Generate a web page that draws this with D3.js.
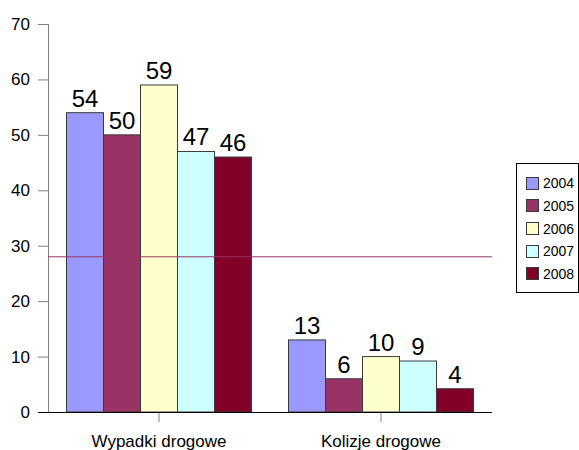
<!DOCTYPE html>
<html><head><meta charset="utf-8">
<script src="https://cdn.jsdelivr.net/npm/d3@7"></script>
<style>body{margin:0;background:#fff}svg{display:block;font-family:Arial,"Liberation Sans",sans-serif}</style>
</head><body><svg id="c" width="579" height="450"></svg>
<script>
const categories = ["Wypadki drogowe", "Kolizje drogowe"];
const years = ["2004", "2005", "2006", "2007", "2008"];
const values2004 = [54, 13];
const values2005 = [50, 6];
const values2006 = [59, 10];
const values2007 = [47, 9.2];
const values2008 = [46, 4.2];
const yTicks = [0, 10, 20, 30, 40, 50, 60, 70];
const refLine = 28;
const colors = ["#9999FF", "#993366", "#FFFFCC", "#CCFFFF", "#800028"];

(function () {
const series = [values2004, values2005, values2006, values2007, values2008];
const svg = d3.select("#c");
const mLeft = 48, mRight = 492, mTop = 24, mBottom = 412;
const FONT = "Arial, 'Liberation Sans', sans-serif";

const x0 = d3.scaleBand().domain(categories).range([mLeft, mRight]);
const x1 = d3.scaleBand().domain(years).range([0, x0.bandwidth()]).paddingOuter(0.5).paddingInner(0);
const y = d3.scaleLinear().domain([0, 70]).range([mBottom, mTop]);

// y axis
const ya = svg.append("g").attr("transform", `translate(${mLeft},0)`)
  .call(d3.axisLeft(y).tickValues(yTicks).tickSize(10).tickPadding(8));
ya.select(".domain").attr("stroke", "#808080").attr("d", `M0.5,${mBottom}V${mTop}`);
ya.selectAll(".tick line").attr("stroke", "#808080");
ya.selectAll(".tick text").attr("font-size", 17).attr("fill", "#000").attr("font-family", FONT);

// bars
const groups = svg.append("g").selectAll("g").data(categories).join("g")
  .attr("transform", d => `translate(${x0(d)},0)`);
groups.each(function(cat, ci) {
  const g = d3.select(this);
  years.forEach((yr, si) => {
    const v = series[si][ci];
    g.append("rect")
      .attr("x", x1(yr)).attr("y", y(v))
      .attr("width", x1.bandwidth()).attr("height", y(0) - y(v))
      .attr("fill", colors[si]).attr("stroke", "#3a3a3a").attr("stroke-width", 1);
    g.append("text")
      .attr("x", x1(yr) + x1.bandwidth() / 2).attr("y", y(v) - 6)
      .attr("text-anchor", "middle").attr("font-size", 24).attr("fill", "#000")
      .text(d3.format(".0f")(v));
  });
});

// reference line
svg.append("line").attr("x1", mLeft).attr("x2", mRight)
  .attr("y1", y(refLine)).attr("y2", y(refLine))
  .attr("stroke", "#993366").attr("stroke-width", 1);

// x axis
const xa = svg.append("g").attr("transform", `translate(0,${mBottom})`)
  .call(d3.axisBottom(x0).tickSize(0).tickPadding(0));
xa.select(".domain").remove();
svg.append("line").attr("x1", 38).attr("x2", mRight).attr("y1", mBottom + 0.5).attr("y2", mBottom + 0.5).attr("stroke", "#000");
xa.selectAll(".tick line").remove();
xa.selectAll(".tick").append("line").attr("y1", 0).attr("y2", 10).attr("stroke", "#808080");
xa.selectAll(".tick text").attr("y", 35).attr("dy", 0).attr("font-size", 17).attr("fill", "#000")
  .attr("font-family", FONT);

// legend
const lg = svg.append("g");
lg.append("rect").attr("x", 516.5).attr("y", 163.5).attr("width", 62).attr("height", 129)
  .attr("fill", "#fff").attr("stroke", "#000");
years.forEach((yr, i) => {
  const cy = 182.6 + i * 22.7;
  lg.append("rect").attr("x", 526.5).attr("y", Math.round(cy - 6) + 0.5).attr("width", 12).attr("height", 12)
    .attr("fill", colors[i]).attr("stroke", "#3a3a3a");
  lg.append("text").attr("x", 543).attr("y", cy + 5.5).attr("font-size", 14).attr("fill", "#000").text(yr);
});
})();
</script></body></html>
